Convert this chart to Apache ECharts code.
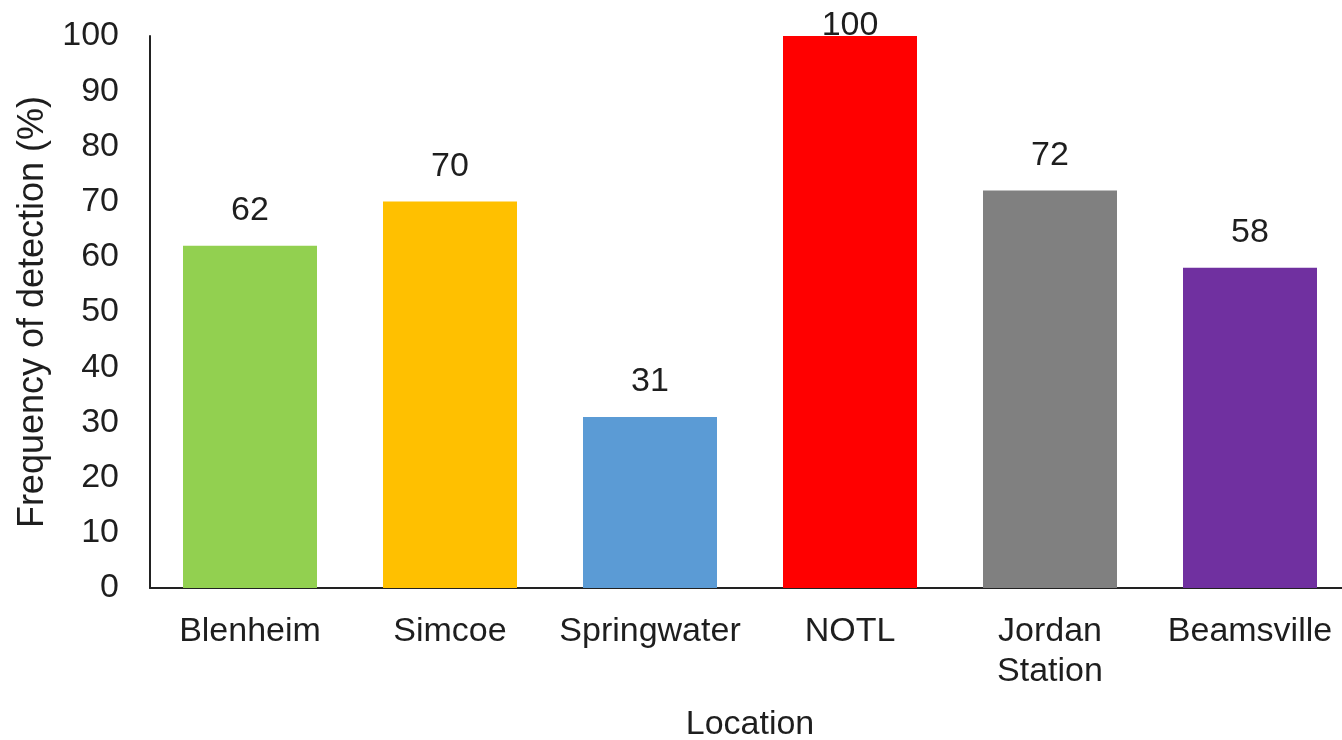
<!DOCTYPE html>
<html><head><meta charset="utf-8">
<script src="https://cdn.jsdelivr.net/npm/echarts@6/dist/echarts.min.js"></script>
<style>html,body{margin:0;padding:0;background:#fff;overflow:hidden}#c{width:1352px;height:740px}</style>
</head><body><div id="c"></div>
<script>
const categories = ['Blenheim', 'Simcoe', 'Springwater', 'NOTL', 'Jordan\nStation', 'Beamsville'];
const values = [62, 70, 31, 100, 72, 58];
const barColors = ['#92D050', '#FFC000', '#5B9BD5', '#FF0000', '#808080', '#7030A0'];
const yTicks = { min: 0, max: 100, interval: 10 };

const FONT = '"Liberation Sans", Arial, sans-serif';
const TXT = '#1e1e1e';
const FS = 34;
const chart = echarts.init(document.getElementById('c'));
chart.setOption({
  animation: false,
  grid: { left: 150, top: 36, width: 1200, bottom: 152, containLabel: false, outerBoundsMode: 'none' },
  xAxis: {
    type: 'category', data: categories,
    name: 'Location', nameLocation: 'middle', nameGap: 120,
    nameTextStyle: { fontFamily: FONT, fontSize: FS, color: TXT },
    axisLine: { lineStyle: { color: '#222', width: 2 } },
    axisTick: { show: false },
    axisLabel: { fontFamily: FONT, fontSize: FS, color: TXT, margin: 24, lineHeight: 40, interval: 0 }
  },
  yAxis: {
    type: 'value', min: yTicks.min, max: yTicks.max, interval: yTicks.interval,
    name: 'Frequency of detection (%)', nameLocation: 'middle', nameGap: 97,
    nameTextStyle: { fontFamily: FONT, fontSize: 36, color: TXT },
    axisLine: { show: true, lineStyle: { color: '#222', width: 2 } },
    axisTick: { show: false },
    splitLine: { show: false },
    axisLabel: { fontFamily: FONT, fontSize: FS, color: TXT, margin: 31 }
  },
  series: [{
    type: 'bar', barWidth: '67%',
    data: values.map((v, i) => ({
      value: v,
      itemStyle: { color: barColors[i] },
      label: v >= yTicks.max ? { distance: -7 } : undefined
    })),
    label: { show: true, position: 'top', distance: 18, fontFamily: FONT, fontSize: FS, color: TXT }
  }]
});
</script></body></html>
